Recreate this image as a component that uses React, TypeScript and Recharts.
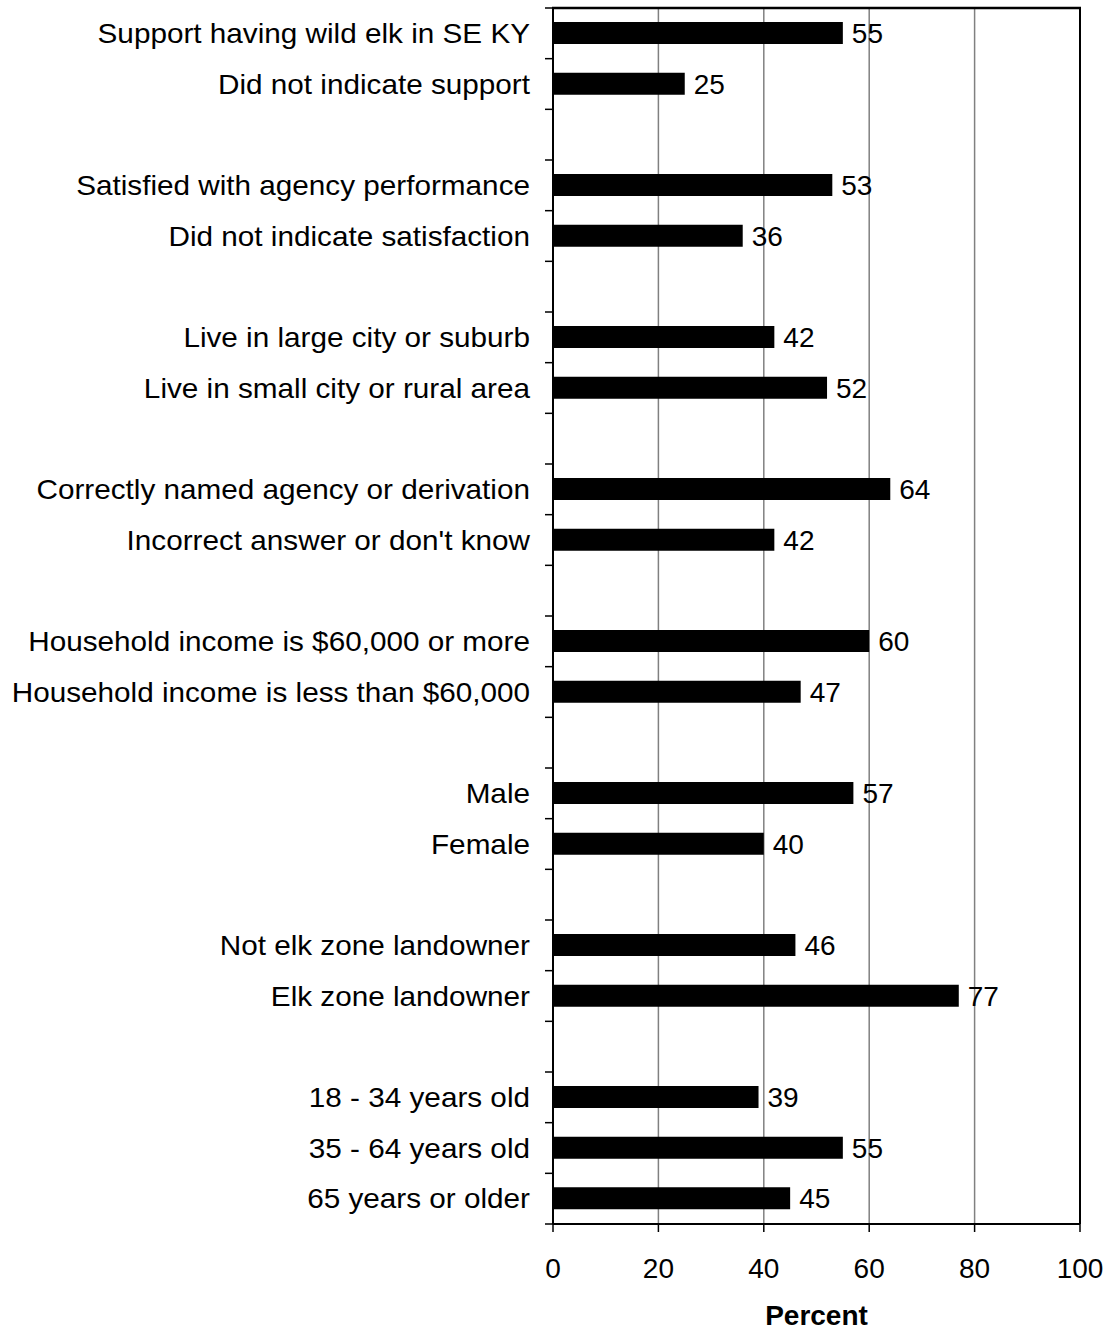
import React from 'react';
import { BarChart, Bar, XAxis, YAxis, CartesianGrid, LabelList, ReferenceLine } from 'recharts';

// one entry per row, '' marks the spacer rows between groups
const categories = [
  'Support having wild elk in SE KY',
  'Did not indicate support',
  '',
  'Satisfied with agency performance',
  'Did not indicate satisfaction',
  '',
  'Live in large city or suburb',
  'Live in small city or rural area',
  '',
  'Correctly named agency or derivation',
  'Incorrect answer or don\'t know',
  '',
  'Household income is $60,000 or more',
  'Household income is less than $60,000',
  '',
  'Male',
  'Female',
  '',
  'Not elk zone landowner',
  'Elk zone landowner',
  '',
  '18 - 34 years old',
  '35 - 64 years old',
  '65 years or older',
];

const percents = [55, 25, null, 53, 36, null, 42, 52, null, 64, 42, null, 60, 47, null, 57, 40, null, 46, 77, null, 39, 55, 45];

const xTicks = [0, 20, 40, 60, 80, 100];

const data = categories.map((label, i) => ({ key: 'row' + i, label, value: percents[i] }));

const W = 1109;
const H = 1332;
const TOP = 8;
const RIGHT = 29;
const AXIS_X = 553;
const BOTTOM = 1224;
const FONT = '"Liberation Sans", Arial, sans-serif';
const BAND = (BOTTOM - TOP) / categories.length;

const YTick = (props: any) => {
  const { x, y, index } = props;
  const row = data[index];
  return (
    <g>
      <line x1={AXIS_X - 8} x2={AXIS_X} y1={y - BAND / 2} y2={y - BAND / 2} stroke="#000" strokeWidth={1.5} />
      {index === 0 && (
        // frame line along the top of the plot
        <line x1={AXIS_X - 1} x2={W - RIGHT + 1} y1={y - BAND / 2} y2={y - BAND / 2} stroke="#000" strokeWidth={2.5} />
      )}
      {index === data.length - 1 && (
        <line x1={AXIS_X - 8} x2={AXIS_X} y1={y + BAND / 2} y2={y + BAND / 2} stroke="#000" strokeWidth={1.5} />
      )}
      {row && row.label ? (
        <text
          transform={`translate(${x},${y}) scale(1.1,1)`}
          x={0}
          y={0}
          dy="0.355em"
          textAnchor="end"
          fontSize={27}
          fontFamily={FONT}
          fill="#000"
        >
          {row.label}
        </text>
      ) : null}
    </g>
  );
};

const PercentLabel = (props: any) => {
  const { viewBox } = props;
  const cx = viewBox.x + viewBox.width / 2;
  return (
    <text x={cx} y={1325} textAnchor="middle" fontSize={28} fontWeight="bold" fontFamily={FONT} fill="#000">
      Percent
    </text>
  );
};

export default function App() {
  return (
    <div style={{ position: 'absolute', left: 0, top: 0, width: W, height: H, overflow: 'hidden' }}>
      <BarChart
        width={W}
        height={H}
        data={data}
        layout="vertical"
        margin={{ top: TOP, right: RIGHT, bottom: 0, left: 0 }}
        barCategoryGap="0%"
      >
        <CartesianGrid horizontal={false} stroke="#808080" strokeWidth={1.5} />
        <XAxis
          type="number"
          domain={[0, 100]}
          ticks={xTicks}
          interval={0}
          height={H - BOTTOM}
          axisLine={{ stroke: '#000', strokeWidth: 2 }}
          tickLine={{ stroke: '#000', strokeWidth: 1.5 }}
          tickSize={8}
          tickMargin={26}
          tick={{ fontSize: 28, fontFamily: FONT, fill: '#000' }}
          label={<PercentLabel />}
        />
        <YAxis
          type="category"
          dataKey="key"
          width={AXIS_X}
          interval={0}
          tickLine={false}
          tickSize={8}
          tickMargin={15}
          axisLine={{ stroke: '#000', strokeWidth: 2 }}
          tick={<YTick />}
        />
        <ReferenceLine x={100} stroke="#000" strokeWidth={2} />
        <Bar dataKey="value" fill="#000" barSize={22} isAnimationActive={false}>
          <LabelList dataKey="value" position="right" offset={9} fontSize={28} fontFamily={FONT} fill="#000" />
        </Bar>
      </BarChart>
    </div>
  );
}
